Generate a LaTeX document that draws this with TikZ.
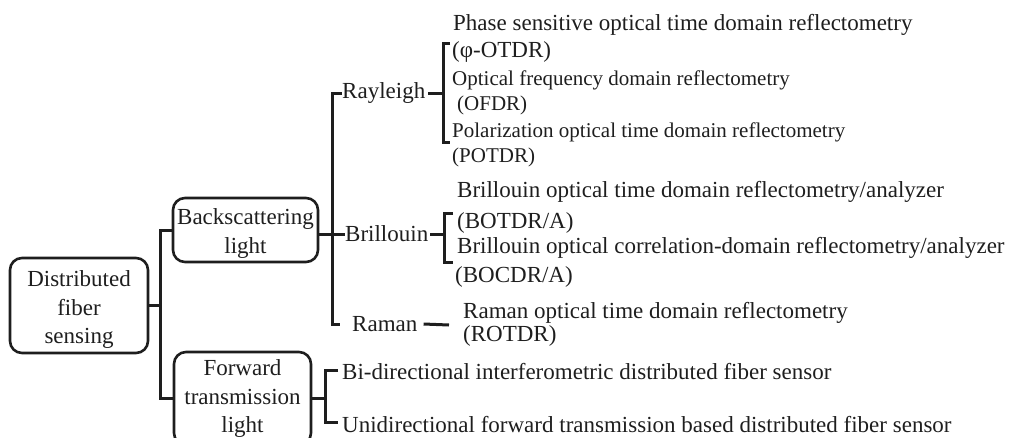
\documentclass[tikz,border=0pt]{standalone}
\usepackage{fontspec}
\setmainfont{Liberation Serif}
\definecolor{ink}{RGB}{30,30,30}
\newcommand\bigtxt{\fontsize{23}{28.5}\selectfont}
\newcommand\smalltxt{\fontsize{21}{25}\selectfont}
\tikzset{
  box/.style={draw, rounded corners=12pt, inner sep=0pt, line width=2.6pt},
  boxtext/.style={align=center, inner sep=0pt, font=\bigtxt},
  leaf/.style={anchor=west, inner sep=0pt, font=\bigtxt},
  leafsmall/.style={leaf, font=\smalltxt},
  link/.style={line width=3pt},
}
\begin{document}
\begin{tikzpicture}[x=1pt, y=-1pt, color=ink]
\useasboundingbox (0,0) rectangle (1017,437);
\clip (0,0) rectangle (1017,437);

% main boxes
\node[box, minimum width=138pt, minimum height=95pt] (dfs) at (79,305.5) {};
\node[boxtext] (dfstxt) at ([yshift=-4pt]dfs.center) {Distributed\\fiber\\sensing};
\node[box, minimum width=145pt, minimum height=64pt] (bs) at (245.5,230) {};
\node[boxtext] (bstxt) at ([yshift=-3.5pt]bs.center) {Backscattering\\light};
\node[box, minimum width=137pt, minimum height=93pt] (fw) at (242.5,398.5) {};
\node[boxtext] (fwtxt) at (fw.center) {Forward\\transmission\\light};

% scattering types
\node[leaf] (ray) at (342,93) {Rayleigh};
\node[leaf] (bril) at (345,234) {Brillouin};
\node[leaf] (ram) at (352,324) {Raman};

% Rayleigh techniques
\node[leaf] (p1) at (453,25) {Phase sensitive optical time domain reflectometry};
\node[leaf] (p2) at (452,52) {(φ-OTDR)};
\node[leafsmall] (p3) at (452,80) {Optical frequency domain reflectometry};
\node[leafsmall] (p4) at (457,105) {(OFDR)};
\node[leafsmall] (p5) at (452,132) {Polarization optical time domain reflectometry};
\node[leafsmall] (p6) at (452,157) {(POTDR)};

% Brillouin techniques
\node[leaf] (b1) at (457,192) {Brillouin optical time domain reflectometry/analyzer};
\node[leaf] (b2) at (457,223) {(BOTDR/A)};
\node[leaf] (b3) at (457,248) {Brillouin optical correlation-domain reflectometry/analyzer};
\node[leaf] (b4) at (455,277) {(BOCDR/A)};

% Raman technique
\node[leaf] (r1) at (463,313) {Raman optical time domain reflectometry};
\node[leaf] (r2) at (463,336) {(ROTDR)};

% forward transmission techniques
\node[leaf] (f1) at (342,372) {Bi-directional interferometric distributed fiber sensor};
\node[leaf] (f2) at (342,425) {Unidirectional forward transmission based distributed fiber sensor};

% junction points
\coordinate (j1) at (160,305.5);
\coordinate (bsr) at (318,234);
\coordinate (t2) at (332,324);
\coordinate (rk) at (340,324);
\coordinate (rd) at (449,325);
\coordinate (rbt) at (450,43);
\coordinate (rbb) at (450,142);
\coordinate (rbm) at (443,93);
\coordinate (bbt) at (453,213);
\coordinate (bbb) at (453,262);
\coordinate (bbm) at (444,234);
\coordinate (fbt) at (338,370);
\coordinate (fbb) at (338,422);
\coordinate (fbm) at (325,398.5);

% tree connectors
\draw[link] (dfs.east) -- (j1);
\draw[link] (bs.west) -| (j1) |- (fw.west);
\draw[link] (bsr) -- (bril.west);
\draw[link] (ray.west) -| (t2) -- (rk);
\draw[link] (ram.east) ++(6,0) -- (rd);

% brackets
\draw[link] (rbt) -- ++(-7,0) |- (rbb);
\draw[link] (ray.east) ++(3,0) -- (rbm);
\draw[link] (bbt) -- ++(-9,0) |- (bbb);
\draw[link] (bril.east) ++(2,0) -- (bbm);
\draw[link] (fbt) -- ++(-13,0) |- (fbb);
\draw[link] (fw.east) -- (fbm);
\end{tikzpicture}
\end{document}
